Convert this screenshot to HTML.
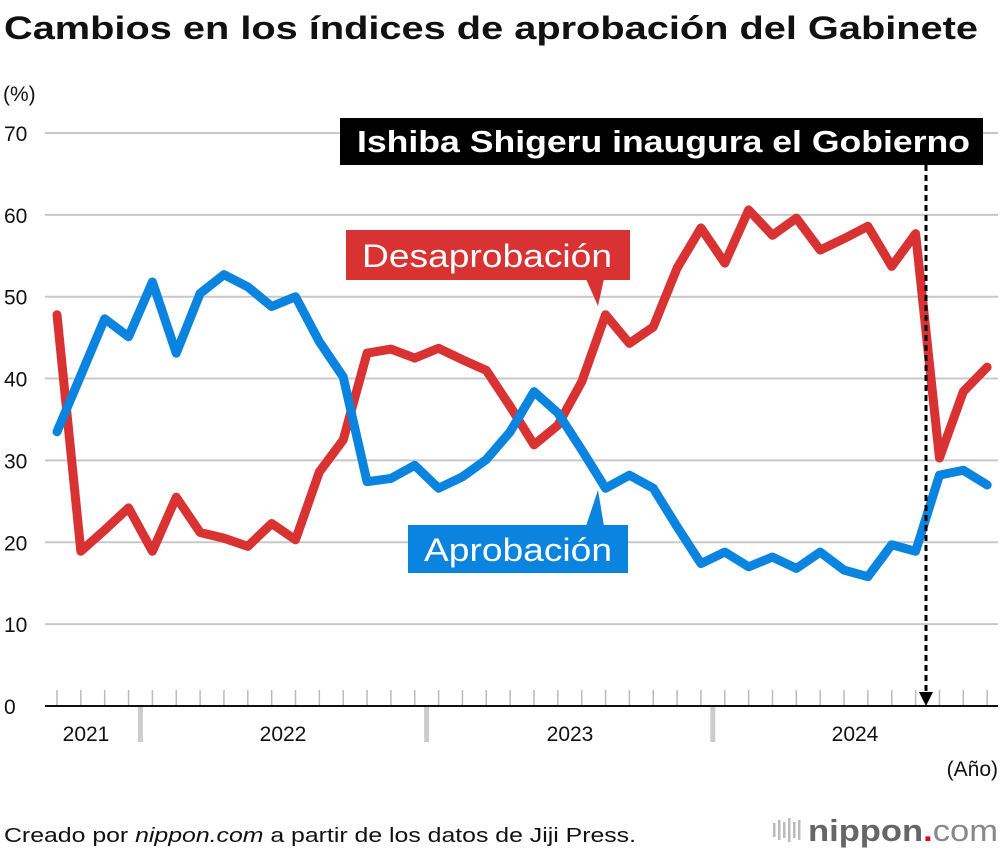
<!DOCTYPE html>
<html><head><meta charset="utf-8"><style>
body{margin:0;background:#fff;font-family:"Liberation Sans",Arial,sans-serif;}
#wrap{position:relative;width:1000px;height:856px;overflow:hidden;}
</style></head><body>
<div id="wrap">
<svg id="chart" width="1000" height="856" xmlns="http://www.w3.org/2000/svg">
<text x="4" y="39" font-size="32" font-weight="bold" fill="#111" textLength="974" lengthAdjust="spacingAndGlyphs">Cambios en los índices de aprobación del Gabinete</text>
<text x="3" y="101" font-size="21" fill="#111">(%)</text>
<g id="grid"></g>
<g id="xaxis"></g>
<g id="series"></g>
<g>
<line x1="926" y1="165" x2="926" y2="694" stroke="#000" stroke-width="3" stroke-dasharray="6,4"/>
<polygon points="919,692 933,692 926,706" fill="#000"/>
<rect x="340" y="118" width="643" height="47" fill="#000"/>
<text x="357" y="152" font-size="31" font-weight="bold" fill="#fff" textLength="613" lengthAdjust="spacingAndGlyphs">Ishiba Shigeru inaugura el Gobierno</text>
</g>
<g>
<rect x="346" y="230" width="284" height="50" fill="#d93232"/>
<polygon points="586,279 604,279 598,306" fill="#d93232"/>
<text x="362" y="267" font-size="32" fill="#fff" textLength="250" lengthAdjust="spacingAndGlyphs">Desaprobación</text>
</g>
<g>
<rect x="408" y="525" width="220" height="48" fill="#0b84e0"/>
<polygon points="586,526 604,526 598,490" fill="#0b84e0"/>
<text x="424" y="561" font-size="32" fill="#fff" textLength="188" lengthAdjust="spacingAndGlyphs">Aprobación</text>
</g>
<text x="998" y="776" font-size="21" fill="#111" text-anchor="end">(Año)</text>
<text x="4" y="842" font-size="20" fill="#111" textLength="632" lengthAdjust="spacingAndGlyphs">Creado por <tspan font-style="italic">nippon.com</tspan> a partir de los datos de Jiji Press.</text>
<g>
<g fill="#bbb"><rect x="773" y="823" width="2.5" height="14"/><rect x="778" y="820" width="2.5" height="20"/><rect x="783" y="822" width="2.5" height="16"/><rect x="788" y="818" width="2.5" height="24"/><rect x="793" y="822" width="2.5" height="16"/><rect x="798" y="820" width="2.5" height="20"/></g>
<text x="808" y="841" font-size="31" font-weight="bold" fill="#666" textLength="190" lengthAdjust="spacingAndGlyphs">nippon<tspan fill="#e60012">.</tspan><tspan font-weight="normal" fill="#888">com</tspan></text>
</g>
</svg>
</div>
<script>
const yTicks=[0,10,20,30,40,50,60,70];
const years=["2021","2022","2023","2024"];
const approval=[33.5,40.4,47.3,45.1,51.8,43.1,50.4,52.7,51.2,48.8,50,44.5,40.2,27.4,27.8,29.4,26.6,28,30.1,33.5,38.4,35.8,31.3,26.6,28.2,26.6,21.9,17.4,18.8,17,18.2,16.8,18.8,16.6,15.8,19.7,18.9,28.2,28.8,27];
const disapproval=[47.8,18.9,21.5,24.2,18.9,25.5,21.2,20.5,19.5,22.3,20.3,28.6,32.5,43.1,43.6,42.5,43.7,42.3,41,36.6,31.9,34.3,39.6,47.8,44.3,46.3,53.5,58.4,54.1,60.6,57.5,59.6,55.7,57.1,58.6,53.7,57.7,30.3,38.4,41.4];
const NS="http://www.w3.org/2000/svg";
function xs(i){return 57+i*23.85;}
function ys(v){return 706-v*8.186;}
const grid=document.getElementById('grid');
yTicks.forEach(t=>{
  if(t>0){const l=document.createElementNS(NS,'line');
  l.setAttribute('x1',45);l.setAttribute('x2',998);l.setAttribute('y1',ys(t));l.setAttribute('y2',ys(t));
  l.setAttribute('stroke','#c8c8c8');l.setAttribute('stroke-width',2);
  
  
  grid.appendChild(l);}
  const tx=document.createElementNS(NS,'text');
  tx.setAttribute('x',4);tx.setAttribute('y',ys(t)+8);tx.setAttribute('font-size',21);tx.setAttribute('fill','#111');
  tx.textContent=t;
  
  
  grid.appendChild(tx);
});
const xa=document.getElementById('xaxis');
for(let i=0;i<approval.length;i++){
  const l=document.createElementNS(NS,'line');
  l.setAttribute('x1',xs(i));l.setAttribute('x2',xs(i));l.setAttribute('y1',690);l.setAttribute('y2',706);
  l.setAttribute('stroke','#bbb');l.setAttribute('stroke-width',1.5);
  
  
  xa.appendChild(l);
}
const base=document.createElementNS(NS,'line');
base.setAttribute('x1',45);base.setAttribute('x2',998);base.setAttribute('y1',706);base.setAttribute('y2',706);
base.setAttribute('stroke','#111');base.setAttribute('stroke-width',2);


xa.appendChild(base);
[4,16,28].forEach(s=>{
  const r=document.createElementNS(NS,'rect');
  r.setAttribute('x',xs(s)-12-2.5);r.setAttribute('y',707);r.setAttribute('width',5);r.setAttribute('height',35);r.setAttribute('fill','#ccc');
  
  
  xa.appendChild(r);
});
const yearLabelX=[86,283,570,855];
years.forEach((y,k)=>{
  const t=document.createElementNS(NS,'text');
  t.setAttribute('x',yearLabelX[k]);t.setAttribute('y',741);t.setAttribute('font-size',21);t.setAttribute('text-anchor','middle');t.setAttribute('fill','#111');
  t.textContent=y;
  
  
  xa.appendChild(t);
});
const sg=document.getElementById('series');
function drawLine(arr,color,name){
  const p=document.createElementNS(NS,'polyline');
  p.setAttribute('points',arr.map((v,i)=>xs(i)+','+ys(v)).join(' '));
  p.setAttribute('fill','none');p.setAttribute('stroke',color);p.setAttribute('stroke-width',9);
  p.setAttribute('stroke-linejoin','round');p.setAttribute('stroke-linecap','round');
  
  
  sg.appendChild(p);
}
drawLine(disapproval,'#d93232','disapproval-line');
drawLine(approval,'#0b84e0','approval-line');
</script>
</body></html>
